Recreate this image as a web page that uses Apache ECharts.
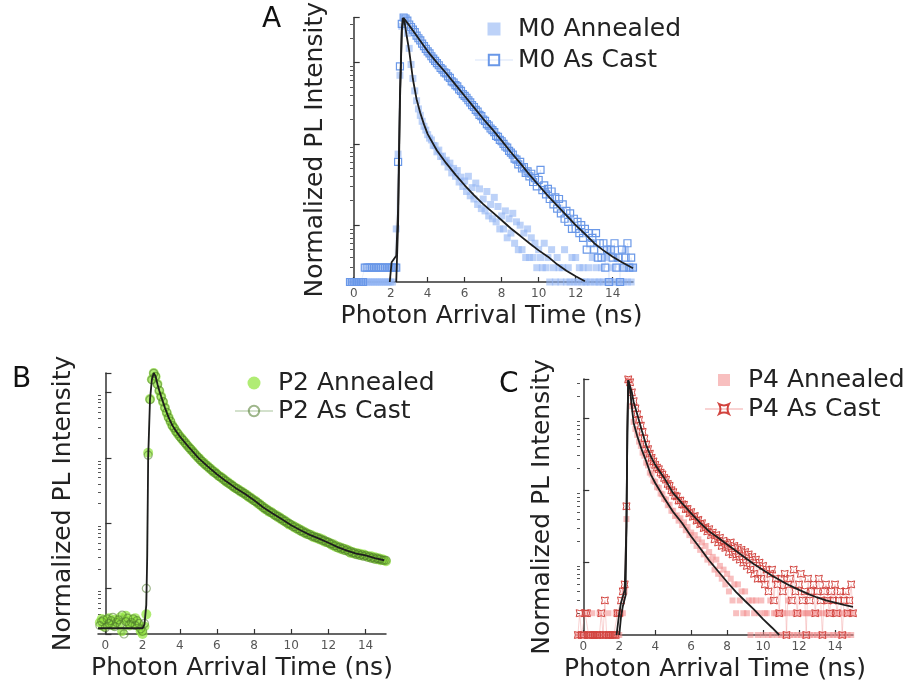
<!DOCTYPE html>
<html><head><meta charset="utf-8">
<script src="https://cdn.jsdelivr.net/npm/echarts@6/dist/echarts.min.js"></script>
<style>html,body{margin:0;padding:0;background:#fff}#chart{width:917px;height:685px}</style>
</head><body><div id="chart"></div>
<script>
// shared TCSPC time bins (ns)
const timeNs = [-0.3,-0.2,-0.1,
0,0.1,0.2,0.3,0.4,0.5,0.6,0.7,0.8,0.9,
1,1.1,1.2,1.3,1.4,1.5,1.6,1.7,1.8,1.9,
2,2.1,2.2,2.3,2.4,2.5,2.6,2.7,2.8,2.9,
3,3.1,3.2,3.3,3.4,3.5,3.6,3.7,3.8,3.9,
4,4.1,4.2,4.3,4.4,4.5,4.6,4.7,4.8,4.9,
5,5.1,5.2,5.3,5.4,5.5,5.6,5.7,5.8,5.9,
6,6.1,6.2,6.3,6.4,6.5,6.6,6.7,6.8,6.9,
7,7.1,7.2,7.3,7.4,7.5,7.6,7.7,7.8,7.9,
8,8.1,8.2,8.3,8.4,8.5,8.6,8.7,8.8,8.9,
9,9.1,9.2,9.3,9.4,9.5,9.6,9.7,9.8,9.9,
10,10.1,10.2,10.3,10.4,10.5,10.6,10.7,10.8,10.9,
11,11.1,11.2,11.3,11.4,11.5,11.6,11.7,11.8,11.9,
12,12.1,12.2,12.3,12.4,12.5,12.6,12.7,12.8,12.9,
13,13.1,13.2,13.3,13.4,13.5,13.6,13.7,13.8,13.9,
14,14.1,14.2,14.3,14.4,14.5,14.6,14.7,14.8,14.9,
15,15.1];

const xTickValues = [0,2,4,6,8,10,12,14];
// minor tick values of the log intensity axes (2..9 per decade)
const minorTickValues = [2,3,4,5,6,7,8,9,20,30,40,50,60,70,80,90,200,300,400,500,600,700,800,900,
  2000,3000,4000,5000,6000,7000,8000,9000];

// Panel A : M0
const aAnnealed = [null,2,2,
2,2,2,2,2,2,2,2,2,2,
2,2,2,2,2,2,2,2,2,2,
2,2,3,9,75,700,2800,3550,3300,2300,
1500,950,640,450,340,270,225,190,165,148,
130,118,112,96,95,80,84,70,71,60,
63,52,58,44,50,40,47,34,39,30,
35,26,40,23,29,21,33,18,28,16,
21,15,26,13,18,12,22,11,17,9,
13,9,15,7,12,8,14,6,11,5,
10,5,8,4,9,4,7,4,6,3,
5,4,3,6,3,4,2,5,3,2,
4,3,2,3,5,2,3,2,4,2,
4,2,3,2,3,2,2,3,2,4,
2,3,2,2,3,2,4,2,5,2,
3,2,4,2,2,3,2,5,2,3,
2,3];
const aAsCast = [null,2,2,
2,2,2,2,2,2,3,3,3,3,
3,3,3,3,3,3,3,3,3,3,
3,3,3,3,60,900,3000,3600,3500,3300,
2950,2750,2550,2380,2150,2000,1880,1720,1600,1480,
1380,1300,1200,1120,1050,990,930,860,820,760,
740,680,650,590,570,530,510,470,450,410,
390,370,345,325,300,285,262,250,228,220,
200,192,175,168,155,148,140,126,122,112,
108,100,93,90,82,78,74,66,64,56,
60,50,52,44,46,40,43,34,38,30,
36,48,27,31,24,28,21,26,18,22,
16,21,14,18,12,15,11,14,9,12,
9,11,8,10,7,9,5,8,6,7,
5,8,4,6,4,6,3,5,2,5,
4,6,3,4,2,5,3,4,6,3,
4,3];
const fitAFastT = [2.3,2.4,2.5,2.6,2.65,2.75,2.85,3.0,3.2,3.4,3.6,3.8,4.0,4.5,5.0,5.5,6.0,6.5,7.0,7.5,8.0,8.5,9.0,9.5,10.0,10.5,11.0,11.5,12.0,12.5];
const fitAFastV = [2,10,316,2500,3550,3160,2240,1410,630,355,240,174,132,83,58,42,31,23.4,18.2,14.5,11.5,9.1,7.4,6.0,4.9,4.1,3.3,2.75,2.35,2.04];
const fitASlowT = [1.95,2.05,2.3,2.4,2.5,2.6,2.7,2.8,3.0,3.5,4.0,4.5,5.0,5.5,6.0,6.5,7.0,7.5,8.0,8.5,9.0,9.5,10.0,10.5,11.0,11.5,12.0,12.5,13.0,13.5,14.0,14.5,15.1];
const fitASlowV = [2,3.5,4.2,16,400,2500,3550,3470,2880,2000,1380,1000,741,537,389,282,204,151,110,79,58,42,31,23,17.4,13.2,10,7.8,6.0,4.9,4.1,3.5,2.95];

// Panel B : P2
const bAnnealed = [3.0,3.4,2.6,
3.2,2.8,3.5,3.0,2.7,3.3,3.1,2.9,3.6,2.2,
3.4,3.8,3.0,2.7,3.3,2.9,3.5,3.1,2.6,2.2,
2.0,2.6,4.0,1200,8000,16000,20000,17500,13600,10600,
8800,7200,5900,4900,4200,3600,3150,2850,2560,2330,
2140,1990,1820,1710,1550,1460,1340,1260,1150,1090,
1000,950,870,840,770,750,690,670,615,600,
562,530,515,480,465,432,422,394,384,358,
347,330,322,300,297,278,272,252,248,230,
224,216,200,197,181,176,164,162,150,149,
141,133,132,122,122,113,112,104,102,95,
93,91,85,85,79,79,74,74,69,69,
66,65,61,62,58,59,55,56,52,52,
50,49,46,47,43,44,41,42,39,40,
38,38,35,36,34,35,33,34,32,33,
32,31,30,31,29,30,28,29,27,28,
27,26];
const bAsCast = [2.7,3.1,3.3,
2.5,3.4,2.9,3.2,3.6,2.6,3.0,3.3,2.8,3.9,
2.0,3.1,3.5,2.8,3.0,3.4,2.7,3.2,2.9,2.4,
2.2,2.9,10,1100,7800,15700,19800,17800,13300,10800,
8600,7300,5850,4980,4130,3650,3120,2880,2530,2360,
2120,1960,1850,1680,1570,1430,1360,1240,1170,1070,
1010,930,885,820,785,730,705,650,630,585,
568,528,505,490,455,440,412,400,376,365,
342,335,315,307,290,284,265,258,242,236,
221,213,206,192,186,172,168,158,154,145,
143,134,128,126,118,116,108,107,99,98,
94,88,88,82,82,76,76,71,71,67,
67,63,63,60,60,57,57,54,54,51,
51,48,48,45,45,42,43,40,41,38,
39,36,37,35,35,33,34,32,33,31,
32,30,31,29,30,28,29,28,28,27,
27,27];
const fitBT = [-0.4,2.0,2.1,2.2,2.25,2.3,2.4,2.5,2.6,2.7,2.8,2.9,3.0,3.2,3.4,3.6,3.8,4.0,4.5,5.0,5.5,6.0,6.5,7.0,7.5,8.0,8.5,9.0,9.5,10.0,10.5,11.0,11.5,12.0,12.5,13.0,13.5,14.0,14.5,15.0];
const fitBV = [2.45,2.45,2.8,5.6,32,1000,7940,15850,19950,17800,13500,10700,8700,5900,4170,3160,2570,2140,1445,1000,741,562,437,347,282,224,174,141,115,93,78,66,58,50,43,38,34,32,29,27];

// Panel C : P4
const cAnnealed = [1,1,1,
1,2,1,1,1,2,1,1,1,2,
1,1,1,1,2,1,1,1,2,1,
1,2,2,4,40,3300,2400,1450,880,700,
580,470,410,330,300,240,220,175,165,135,
130,110,108,90,88,76,74,62,63,52,
52,44,45,38,41,33,36,28,31,24,
26,20,24,17,21,15,19,13,17,11,
14,10,12,8,11,7,9,6,8,5,
7,4,6,3,5,2,5,3,4,2,
4,2,3,1,3,2,3,1,2,3,
1,2,2,1,3,1,2,2,1,2,
1,2,1,2,3,1,2,1,2,1,
2,1,2,1,2,2,1,2,1,2,
1,2,1,2,1,2,3,1,2,1,
2,1,2,1,2,1,2,1,2,1,
2,null];
const cAsCast = [1,2,1,
1,2,2,1,1,1,1,1,1,1,
2,1,3,1,1,1,1,1,1,2,
2,3,4,5,60,3400,3100,2250,1700,1350,
1120,940,780,640,520,430,370,320,280,250,
224,205,195,175,165,148,140,122,115,100,
94,84,82,72,72,64,63,55,55,48,
50,43,44,38,39,34,35,30,31,27,
29,24,26,21,24,19,22,17,20,16,
18,14,19,13,17,12,16,11,15,10,
14,9,13,8,12,7,11,6,10,6,
9,5,8,4,7,8,3,6,5,2,
6,4,7,1,5,6,3,8,4,2,
5,7,3,4,1,6,3,4,5,2,
4,6,3,1,4,5,3,2,4,3,
5,2,3,4,1,3,4,2,3,5,
2,null];
const fitCSlowT = [1.85,2.0,2.1,2.3,2.4,2.45,2.5,2.6,2.7,2.8,3.0,3.25,3.5,3.75,4.0,4.5,5.0,5.5,6.0,6.5,7.0,7.5,8.0,8.5,9.0,9.5,10.0,10.5,11.0,11.5,12.0,12.5,13.0,13.5,14.0,14.5,15.0];
const fitCSlowV = [1,2,2.8,4.2,32,630,3300,3160,2240,1660,1120,676,417,295,224,148,91,66,48,35.5,27,22,17.8,14.5,11.7,9.5,7.9,6.6,5.6,4.8,4.2,3.7,3.3,3.0,2.8,2.6,2.45];
const fitCFastT = [2.0,2.1,2.2,2.35,2.4,2.45,2.5,2.6,2.7,2.8,3.0,3.25,3.5,3.75,4.0,4.5,5.0,5.5,6.0,6.5,7.0,7.5,8.0,8.5,9.0,9.5,10.0,10.5,10.9];
const fitCFastV = [1,1.8,2.5,3.5,32,630,3300,2500,1410,850,560,363,251,166,126,78,50,35,23,15.8,10.7,7.6,5.4,3.9,2.95,2.24,1.66,1.26,1.0];

const FONT = 'DejaVu Sans';
function pairs(t, v) { const out = []; for (let i = 0; i < t.length; i++) { if (v[i] != null) out.push([t[i], v[i]]); } return out; }

function xAx(gi, min, max) {
  return { type: 'value', gridIndex: gi, min: min, max: max,
    name: 'Photon Arrival Time (ns)', nameLocation: 'middle', nameGap: 22,
    nameTextStyle: { fontSize: 25, color: '#222', fontFamily: FONT },
    axisLine: { show: true, onZero: false, lineStyle: { color: '#333', width: 1.5 } },
    axisTick: { show: true, inside: true, length: 5, customValues: xTickValues, lineStyle: { color: '#333', width: 1.2 } },
    axisLabel: { customValues: xTickValues, fontSize: 12, color: '#555', margin: 6, fontFamily: FONT },
    splitLine: { show: false } };
}
function yAx(gi, min, max) {
  return { type: 'log', logBase: 10, gridIndex: gi, position: 'left', min: min, max: max,
    name: 'Normalized PL Intensity', nameLocation: 'middle', nameGap: 22,
    nameTextStyle: { fontSize: 25, color: '#222', fontFamily: FONT },
    axisLine: { show: true, lineStyle: { color: '#333', width: 1.5 } },
    axisTick: { show: true, inside: true, length: 6, lineStyle: { color: '#333', width: 1.2 } },
    axisLabel: { show: false }, splitLine: { show: false } };
}
// overlay axis (same grid, same place) carrying only the log minor ticks, in decades
function yMinor(gi, min, max) {
  const vals = minorTickValues.filter(v => v > min && v < max).map(v => Math.log10(v));
  return { type: 'value', gridIndex: gi, position: 'left', offset: 0, min: Math.log10(min), max: Math.log10(max),
    axisLine: { show: false },
    axisTick: { show: true, inside: true, length: 3, customValues: vals, lineStyle: { color: '#555', width: 1 } },
    axisLabel: { show: false }, splitLine: { show: false } };
}
function fit(gi, t, v) {
  return { type: 'line', xAxisIndex: gi, yAxisIndex: gi, data: pairs(t, v), symbol: 'none', silent: true,
    lineStyle: { color: '#1d1d1d', width: 1.8 }, z: 6, clip: true };
}
const legendText = { fontSize: 25, color: '#222', fontFamily: FONT, lineHeight: 28 };
const squareIcon = 'path://M0,0L10,0L10,10L0,10Z';
const concaveSquare = 'path://M0,0 Q5,2.6 10,0 Q7.4,5 10,10 Q5,7.4 0,10 Q2.6,5 0,0 Z';
const letterStyle = { fontSize: 28, fontWeight: 'normal', color: '#111', fontFamily: FONT };

const option = {
  animation: false,
  backgroundColor: '#fff',
  title: [
    { text: 'A', left: 262, top: 6, padding: 0, textStyle: letterStyle },
    { text: 'B', left: 12, top: 366, padding: 0, textStyle: letterStyle },
    { text: 'C', left: 499, top: 371, padding: 0, textStyle: letterStyle }
  ],
  legend: [
    { data: [{ name: 'M0 Annealed', icon: squareIcon }, 'M0 As Cast'], orient: 'vertical', left: 474, top: 15, padding: 0, itemWidth: 38, itemHeight: 13, itemGap: 3, selectedMode: false, textStyle: legendText },
    { data: ['P2 Annealed', 'P2 As Cast'], orient: 'vertical', left: 234, top: 369, padding: 0, itemWidth: 38, itemHeight: 13, itemGap: 0, selectedMode: false, textStyle: legendText },
    { data: [{ name: 'P4 Annealed', icon: squareIcon }, 'P4 As Cast'], orient: 'vertical', left: 704, top: 366, padding: 0, itemWidth: 38, itemHeight: 12, itemGap: 1, selectedMode: false, textStyle: legendText }
  ],
  grid: [
    { left: 350, top: 15, width: 283, height: 267 },
    { left: 98, top: 373, width: 288, height: 261 },
    { left: 577, top: 379, width: 276, height: 256 }
  ],
  xAxis: [xAx(0, -0.2, 15.1), xAx(1, -0.4, 15.1), xAx(2, -0.35, 15.0)],
  yAxis: [yAx(0, 2, 3600), yAx(1, 2, 20000), yAx(2, 1, 3440),
          yMinor(0, 2, 3600), yMinor(1, 2, 20000), yMinor(2, 1, 3440)],
  series: [
    { type: 'scatter', name: 'M0 Annealed', xAxisIndex: 0, yAxisIndex: 0, data: pairs(timeNs, aAnnealed),
      symbol: 'rect', symbolSize: 7, itemStyle: { color: 'rgba(145,180,244,0.75)' }, z: 2 },
    { type: 'line', name: 'M0 As Cast', xAxisIndex: 0, yAxisIndex: 0, data: pairs(timeNs, aAsCast),
      symbol: 'rect', symbolSize: 7, showAllSymbol: true,
      itemStyle: { color: 'rgba(255,255,255,0)', borderColor: '#6a98e8', borderWidth: 1.2 },
      lineStyle: { color: 'rgba(120,160,235,0.15)', width: 1 }, z: 3 },
    fit(0, fitAFastT, fitAFastV), fit(0, fitASlowT, fitASlowV),

    { type: 'scatter', name: 'P2 Annealed', xAxisIndex: 1, yAxisIndex: 1, data: pairs(timeNs, bAnnealed),
      symbol: 'circle', symbolSize: 10, itemStyle: { color: 'rgba(145,228,62,0.9)' }, z: 2 },
    { type: 'line', name: 'P2 As Cast', xAxisIndex: 1, yAxisIndex: 1, data: pairs(timeNs, bAsCast),
      symbol: 'circle', symbolSize: 8, showAllSymbol: true,
      itemStyle: { color: 'rgba(255,255,255,0)', borderColor: 'rgba(78,122,44,0.55)', borderWidth: 1.2 },
      lineStyle: { color: 'rgba(130,170,110,0.35)', width: 1 }, z: 3 },
    fit(1, fitBT, fitBV),

    { type: 'scatter', name: 'P4 Annealed', xAxisIndex: 2, yAxisIndex: 2, data: pairs(timeNs, cAnnealed),
      symbol: 'rect', symbolSize: 6, itemStyle: { color: 'rgba(242,140,140,0.7)' }, z: 2 },
    { type: 'line', name: 'P4 As Cast', xAxisIndex: 2, yAxisIndex: 2, data: pairs(timeNs, cAsCast),
      symbol: concaveSquare, symbolSize: 7, showAllSymbol: true,
      itemStyle: { color: 'rgba(255,255,255,0)', borderColor: '#d2443f', borderWidth: 1 },
      lineStyle: { color: 'rgba(238,130,130,0.35)', width: 1 }, z: 3 },
    fit(2, fitCFastT, fitCFastV), fit(2, fitCSlowT, fitCSlowV)
  ]
};
const chart = echarts.init(document.getElementById('chart'));
chart.setOption(option);
</script></body></html>
